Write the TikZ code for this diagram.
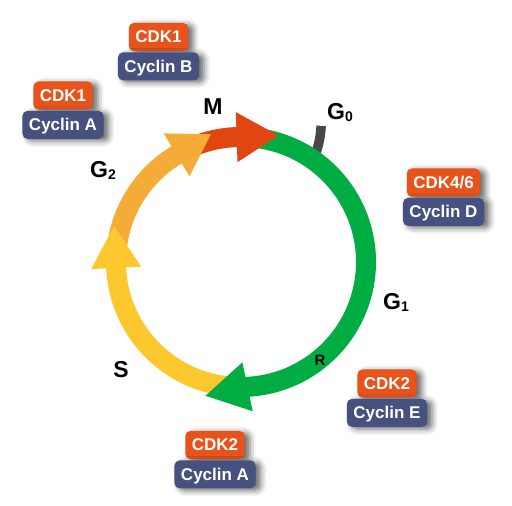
\documentclass[tikz,border=0pt]{standalone}
\usepackage{fontspec}
\setmainfont{Liberation Sans}
\usetikzlibrary{calc,positioning,shadows.blur}

\definecolor{g1green}{RGB}{0,173,66}
\definecolor{syellow}{RGB}{253,200,46}
\definecolor{g2orange}{RGB}{245,171,55}
\definecolor{mred}{RGB}{226,70,16}
\definecolor{g0gray}{RGB}{72,72,72}
\definecolor{cdkfill}{RGB}{232,82,27}
\definecolor{cycfill}{RGB}{70,81,127}

\newcommand{\phasesub}[1]{\raisebox{-1.5pt}{\fontsize{14}{14}\selectfont #1}}

\tikzstyle{band}   = [line width=20pt]
\tikzstyle{phase}  = [inner sep=0pt,font=\fontsize{23}{23}\selectfont\bfseries]
\tikzstyle{cdk}    = [rounded corners=5pt,fill=cdkfill,text=white,inner xsep=6.5pt,inner ysep=0pt,
                      minimum height=28pt,text height=12.5pt,text depth=1pt,
                      font=\fontsize{17}{17}\selectfont\bfseries,
                      blur shadow={shadow xshift=5pt,shadow yshift=-2pt,shadow blur radius=6pt,shadow opacity=60}]
\tikzstyle{cyclin} = [cdk,fill=cycfill]

\begin{document}
\begin{tikzpicture}[x=1pt,y=1pt]
\useasboundingbox (0,0) rectangle (512,506);

\coordinate (C) at (241,244);

% G0 exit
\draw[g0gray,line width=9.5pt] ($(C)+(55:128)$) to[bend right=8] ($(C)+(59.5:158)$);

% bands
\draw[band,g1green]  ($(C)+(85:125)$)  arc[start angle=85,end angle=-89,radius=125];
\draw[band,syellow]  ($(C)+(-95:125)$) arc[start angle=-95,end angle=-179,radius=125];
\draw[band,g2orange] ($(C)+(175:125)$) arc[start angle=175,end angle=119,radius=125];
\draw[band,mred]     ($(C)+(112:125)$) arc[start angle=112,end angle=90,radius=125];

% arrow heads
\coordinate (Gb) at ($(C)+(-87:125)$);
\coordinate (Sb) at ($(C)+(182.7:125)$);
\coordinate (Ob) at ($(C)+(121:125)$);
\coordinate (Mb) at ($(C)+(92:125)$);
\fill[g1green]  ($(Gb)+(-78:25)$)  -- ($(Gb)+(-168:43)$) -- ($(Gb)+(102:25)$) -- cycle;
\fill[syellow]  ($(Sb)+(182.7:25)$) -- ($(Sb)+(92.7:42)$) -- ($(Sb)+(2.7:25)$) -- cycle;
\fill[g2orange] ($(Ob)+(121:25)$)  -- ($(Ob)+(31:40)$)   -- ($(Ob)+(301:25)$) -- cycle;
\fill[mred]     ($(Mb)+(92:25)$)   -- ($(Mb)+(2:42)$)    -- ($(Mb)+(272:25)$) -- cycle;

% phase labels
\node[phase,anchor=base]      (M)  at (213,391) {M};
\node[phase,anchor=base west] (G0) at (327,386) {G\phasesub{0}};
\node[phase,anchor=base west] (G2) at (90,328)  {G\phasesub{2}};
\node[phase,anchor=base west] (G1) at (383,196) {G\phasesub{1}};
\node[phase,anchor=base]      (S)  at (121,128) {S};
\node[phase,anchor=base,font=\fontsize{15}{15}\selectfont\bfseries] (R) at (320,140) {R};

% cdk / cyclin pairs
\node[cdk] (cdkB) at (158.5,469) {CDK1};
\node[cyclin,below=1pt of cdkB] (cycB) {Cyclin B};

\node[cdk] (cdkA1) at (63,410.5) {CDK1};
\node[cyclin,below=1pt of cdkA1] (cycA1) {Cyclin A};

\node[cdk] (cdkD) at (443.5,323.5) {CDK4/6};
\node[cyclin,below=1pt of cdkD] (cycD) {Cyclin D};

\node[cdk] (cdkE) at (387,122.5) {CDK2};
\node[cyclin,below=1pt of cdkE] (cycE) {Cyclin E};

\node[cdk] (cdkA2) at (215,61) {CDK2};
\node[cyclin,below=1pt of cdkA2] (cycA2) {Cyclin A};

\end{tikzpicture}
\end{document}
